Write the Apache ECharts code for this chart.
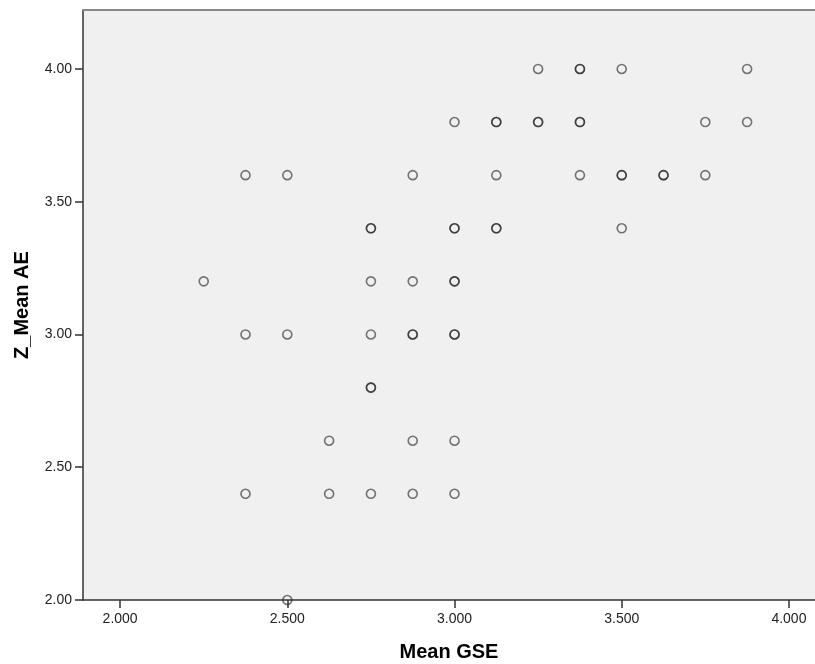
<!DOCTYPE html>
<html>
<head>
<meta charset="utf-8">
<script src="https://cdn.jsdelivr.net/npm/echarts@6/dist/echarts.min.js"></script>
<style>html,body{margin:0;padding:0;background:#fff;}#c{width:815px;height:664px;}</style>
</head>
<body>
<div id="c"></div>
<script>
// Mean GSE (x) and Z_Mean AE (y); repeated pairs are overlapping cases
const meanGSE = [
  3.25, 3.375, 3.375, 3.5, 3.875,
  3.0, 3.125, 3.125, 3.25, 3.25, 3.375, 3.375, 3.75, 3.875,
  2.375, 2.5, 2.875, 3.125, 3.375, 3.5, 3.5, 3.625, 3.625, 3.75,
  2.75, 2.75, 3.0, 3.0, 3.125, 3.125, 3.5,
  2.25, 2.75, 2.875, 3.0, 3.0,
  2.375, 2.5, 2.75, 2.875, 2.875, 3.0, 3.0,
  2.75, 2.75,
  2.625, 2.875, 3.0,
  2.375, 2.625, 2.75, 2.875, 3.0,
  2.5
];
const zMeanAE = [
  4.0, 4.0, 4.0, 4.0, 4.0,
  3.8, 3.8, 3.8, 3.8, 3.8, 3.8, 3.8, 3.8, 3.8,
  3.6, 3.6, 3.6, 3.6, 3.6, 3.6, 3.6, 3.6, 3.6, 3.6,
  3.4, 3.4, 3.4, 3.4, 3.4, 3.4, 3.4,
  3.2, 3.2, 3.2, 3.2, 3.2,
  3.0, 3.0, 3.0, 3.0, 3.0, 3.0, 3.0,
  2.8, 2.8,
  2.6, 2.6, 2.6,
  2.4, 2.4, 2.4, 2.4, 2.4,
  2.0
];
const xTicks = [2.0, 2.5, 3.0, 3.5, 4.0];
const yTicks = [2.0, 2.5, 3.0, 3.5, 4.0];

const chart = echarts.init(document.getElementById('c'), null, {renderer: 'canvas'});
const pts = meanGSE.map((x, i) => [x, zMeanAE[i]]);
const font = 'Liberation Sans, Arial, sans-serif';
const X_MIN = 1.889, X_MAX = 4.078;
chart.setOption({
  animation: false,
  backgroundColor: '#ffffff',
  grid: {
    left: 83, top: 10, right: 0, bottom: 64,
    outerBoundsMode: 'none', containLabel: false,
    show: true, backgroundColor: '#f0f0f0', borderWidth: 0
  },
  xAxis: [{
    type: 'value', min: X_MIN, max: X_MAX, position: 'bottom',
    name: 'Mean GSE', nameLocation: 'middle', nameGap: 42,
    nameTextStyle: {fontFamily: font, fontSize: 20, fontWeight: 'bold', color: '#000'},
    axisLine: {show: true, onZero: false, lineStyle: {color: '#333', width: 1.5}},
    axisTick: {show: true, length: 8, customValues: xTicks, lineStyle: {color: '#333', width: 1.5}},
    axisLabel: {customValues: xTicks, margin: 12, fontFamily: font, fontSize: 14, color: '#222',
      formatter: v => v.toFixed(3)},
    splitLine: {show: false}
  }, {
    type: 'value', min: X_MIN, max: X_MAX, position: 'top',
    axisLine: {show: true, onZero: false, lineStyle: {color: '#888', width: 2}},
    axisTick: {show: false}, axisLabel: {show: false}, splitLine: {show: false}
  }],
  yAxis: {
    type: 'value', min: 2.0, max: 4.222,
    name: 'Z_Mean AE', nameLocation: 'middle', nameGap: 51,
    nameTextStyle: {fontFamily: font, fontSize: 20, fontWeight: 'bold', color: '#000'},
    axisLine: {show: true, onZero: false, lineStyle: {color: '#333', width: 1.5}},
    axisTick: {show: true, length: 8, customValues: yTicks, lineStyle: {color: '#333', width: 1.5}},
    axisLabel: {customValues: yTicks, margin: 11, fontFamily: font, fontSize: 14, color: '#222',
      formatter: v => v.toFixed(2)},
    splitLine: {show: false}
  },
  series: [{
    type: 'scatter',
    xAxisIndex: 0,
    data: pts,
    symbol: 'circle',
    symbolSize: 9,
    clip: false,
    itemStyle: {color: 'rgba(0,0,0,0)', borderColor: 'rgba(30,30,30,0.75)', borderWidth: 1.6}
  }]
});
</script>
</body>
</html>
